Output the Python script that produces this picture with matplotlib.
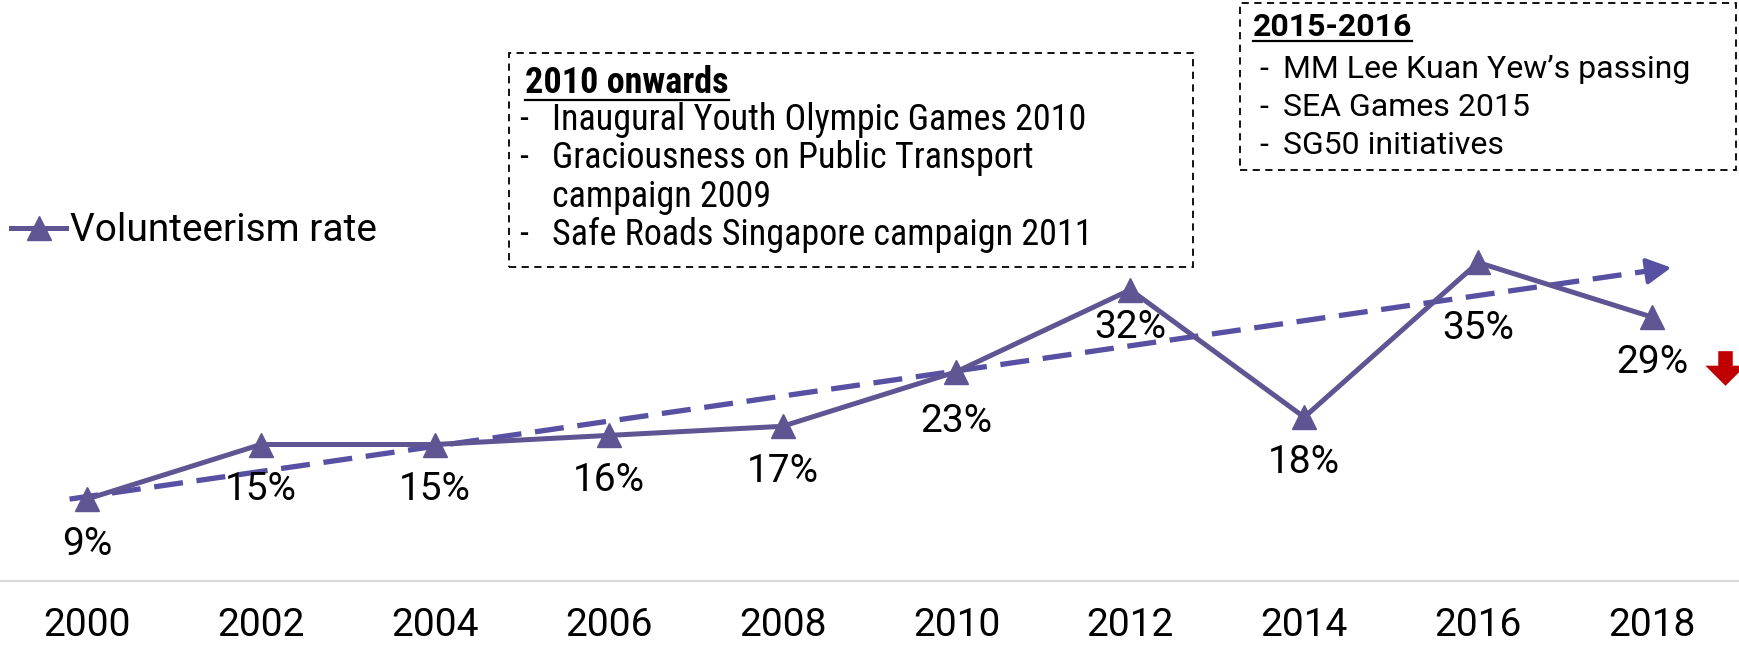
import matplotlib.pyplot as plt
from matplotlib.patches import Rectangle
from matplotlib.lines import Line2D
from matplotlib.path import Path
from matplotlib.transforms import offset_copy

plt.rcParams['font.family'] = ['Roboto', 'DejaVu Sans']

years = ['2000', '2002', '2004', '2006', '2008', '2010', '2012', '2014', '2016', '2018']
rates = [9, 15, 15, 16, 17, 23, 32, 18, 35, 29]
trend_x = [-0.1, 9.06]
trend_y = [9.0, 34.3]

box1_title = '2010 onwards'
box1_items = ['Inaugural Youth Olympic Games 2010',
              'Graciousness on Public Transport\ncampaign 2009',
              'Safe Roads Singapore campaign 2011']
box2_title = '2015-2016'
box2_items = ['MM Lee Kuan Yew\u2019s passing', 'SEA Games 2015', 'SG50 initiatives']

line_color = '#5E5592'
trend_color = '#5850A2'

W, H = 1739, 648
fig = plt.figure(figsize=(W / 100, H / 100), dpi=100)
ax = fig.add_axes([0, 67 / H, 1, 1 - 67 / H])
x = list(range(len(years)))

ax.plot(x, rates, color=line_color, lw=3.6, marker='^', markersize=17,
        label='Volunteerism rate', zorder=3)

# dashed trend line with arrow head
ax.plot(trend_x, trend_y, color=trend_color, lw=3.8, dashes=(5.5, 2.6), zorder=2)
slope = (trend_y[1] - trend_y[0]) / (trend_x[1] - trend_x[0])
ax.annotate('', xy=(trend_x[1] + 0.05, trend_y[1] + 0.05 * slope),
            xytext=(trend_x[1] - 0.1, trend_y[1] - 0.1 * slope),
            arrowprops=dict(arrowstyle='-|>,head_length=0.75,head_width=0.4', color=trend_color,
                            lw=3.0, mutation_scale=20, shrinkA=0, shrinkB=0))

# value labels
label_offsets = [45, 45, 45, 45, 45, 50, 38, 45, 66, 45]
for xi, v, off in zip(x, rates, label_offsets):
    ax.annotate(f'{v}%', (xi, v), xytext=(0, -off), textcoords='offset pixels',
                ha='center', va='center', fontsize=28, color='black')

# red down arrow next to last label, drawn as a custom marker
down_arrow = Path([(0, -0.43), (0.5, 0.07), (0.18, 0.07), (0.18, 0.43), (-0.18, 0.43),
                   (-0.18, 0.07), (-0.5, 0.07), (0, -0.43)], closed=True)
arrow_tr = offset_copy(ax.transData, fig=fig, x=73, y=-51, units='dots')
ax.plot([x[-1]], [rates[-1]], transform=arrow_tr, marker=down_arrow, markersize=29,
        color='#C00000', markeredgewidth=0, linestyle='none', clip_on=False)

ax.set_xlim(-0.5, len(years) - 0.5)
ax.set_ylim(0, 581 / 9.1)
ax.set_xticks(x)
ax.set_xticklabels(years, fontsize=28)
ax.tick_params(axis='x', length=0, pad=19)
ax.set_yticks([])
for s in ['top', 'left', 'right']:
    ax.spines[s].set_visible(False)
ax.spines['bottom'].set_color('#D9D9D9')
ax.spines['bottom'].set_linewidth(1.5)

ax.legend(loc='center left', bbox_to_anchor=(11 / W, 1 - 231 / H), bbox_transform=fig.transFigure,
          frameon=False, fontsize=28, handlelength=1.42, handletextpad=0.1, borderpad=0,
          borderaxespad=0, numpoints=1)

# annotation boxes (pixel positions from top-left)
def px(xp, yp):
    return xp / W, 1 - yp / H

def box(x0, y0, x1, y1):
    fig.patches.append(Rectangle(px(x0, y1), (x1 - x0) / W, (y1 - y0) / H, transform=fig.transFigure,
                                 fill=False, ec='black', lw=1.3, ls=(0, (4, 3))))

def titled(xp, yp, s, family, size):
    t = fig.text(*px(xp, yp), s, fontsize=size, fontweight='bold', family=family, va='center', ha='left')
    fig.canvas.draw()
    bb = t.get_window_extent()
    fig.lines.append(Line2D([bb.x0, bb.x1], [bb.y0 + 1, bb.y0 + 1], transform=None, color='black', lw=1.6))

cond = ['Roboto Condensed', 'Liberation Sans Narrow', 'Roboto']

box(509, 53, 1193, 267)
titled(525, 83, box1_title, cond, 26)
ys = [120, 158.5, 235]
for yy, item in zip(ys, box1_items):
    lines = item.split('\n')
    fig.text(*px(519, yy), '-', fontsize=26, family=cond, va='center', ha='left')
    for k, ln in enumerate(lines):
        fig.text(*px(552, yy + 38.5 * k), ln, fontsize=26, family=cond, va='center', ha='left')

box(1240, 3, 1736, 170)
titled(1253, 27, box2_title, ['Roboto'], 23)
for yy, item in zip([69, 107, 145], box2_items):
    fig.text(*px(1259, yy), '-', fontsize=23, va='center', ha='left')
    fig.text(*px(1283, yy), item, fontsize=23, va='center', ha='left')

fig.savefig('out.png', dpi=100)
